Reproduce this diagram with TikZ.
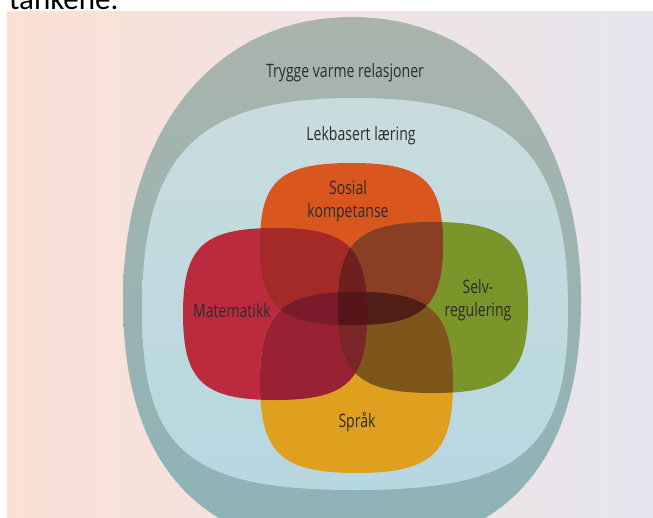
\documentclass[tikz,border=0pt]{standalone}
\usepackage{fontspec}
\newfontfamily\hand[FakeStretch=0.76]{Open Sans}
\newfontfamily\pagefont{Carlito}
\definecolor{pL}{HTML}{FBE1D5}
\definecolor{pM}{HTML}{F6E1DA}
\definecolor{pR}{HTML}{E6E5EE}
\definecolor{outerT}{HTML}{AAB4AC}
\definecolor{outerB}{HTML}{8CB3B8}
\definecolor{innerT}{HTML}{C9DCDD}
\definecolor{innerB}{HTML}{B7D7E1}
\definecolor{cO}{HTML}{D9571F}
\definecolor{cR}{HTML}{BB2A3D}
\definecolor{cG}{HTML}{7A9529}
\definecolor{cY}{HTML}{DEA01E}
\definecolor{cOR}{HTML}{A32A26}
\definecolor{cOG}{HTML}{8A3F25}
\definecolor{cRY}{HTML}{982233}
\definecolor{cGY}{HTML}{7E561B}
\definecolor{cOY}{HTML}{6A1E1E}
\definecolor{cRG}{HTML}{742223}
\definecolor{cORG}{HTML}{6F1F20}
\definecolor{cORY}{HTML}{7A1B2B}
\definecolor{cOGY}{HTML}{4F1E15}
\definecolor{cRGY}{HTML}{7A2526}
\definecolor{cAll}{HTML}{571519}
\definecolor{txt}{HTML}{2B2B2B}
% blob: cx, cy, half-width, top height, bottom height, top k, bottom k
\newcommand\blobp[7]{({#1},{#2-#4}) .. controls ({#1+#6*#3},{#2-#4}) and ({#1+#3},{#2-#6*#4}) .. ({#1+#3},{#2}) .. controls ({#1+#3},{#2+#7*#5}) and ({#1+#7*#3},{#2+#5}) .. ({#1},{#2+#5}) .. controls ({#1-#7*#3},{#2+#5}) and ({#1-#3},{#2+#7*#5}) .. ({#1-#3},{#2}) .. controls ({#1-#3},{#2-#6*#4}) and ({#1-#6*#3},{#2-#4}) .. cycle}
\newcommand\shO{\blobp{351.5}{244}{91.5}{81}{81}{0.78}{0.78}}
\newcommand\shR{\blobp{275}{314}{92}{86}{86}{0.78}{0.78}}
\newcommand\shG{\blobp{433}{307.5}{95}{85.5}{85.5}{0.78}{0.78}}
\newcommand\shY{\blobp{356.5}{382.5}{96.5}{90.5}{90.5}{0.78}{0.78}}
\tikzset{
  lbl/.style={text=txt, align=center, inner sep=0pt, font=\hand\fontsize{18.5}{23}\selectfont},
}
\begin{document}
\begin{tikzpicture}[x=1pt,y=-1pt]
\useasboundingbox (0,0) rectangle (653,517);
% page
\fill[white] (0,0) rectangle (653,517);
\shade[left color=pL, middle color=pM, right color=pR] (7,11) rectangle (653,517);
\node[anchor=base west, inner sep=0pt, font=\pagefont\fontsize{31}{31}\selectfont] (head) at (9,9) {tankene.};
% outer and inner regions
\shade[top color=outerT, bottom color=outerB] \blobp{352}{300}{229}{283}{250}{0.6}{0.66};
\shade[top color=innerT, bottom color=innerB] \blobp{355}{310}{213}{212}{180}{0.74}{0.78};
% four domains
\fill[cO] \shO;
\fill[cR] \shR;
\fill[cG] \shG;
\fill[cY] \shY;
% pairwise overlaps
\begin{scope}\clip \shO; \fill[cOR] \shR; \end{scope}
\begin{scope}\clip \shO; \fill[cOG] \shG; \end{scope}
\begin{scope}\clip \shR; \fill[cRY] \shY; \end{scope}
\begin{scope}\clip \shG; \fill[cGY] \shY; \end{scope}
\begin{scope}\clip \shO; \fill[cOY] \shY; \end{scope}
\begin{scope}\clip \shR; \fill[cRG] \shG; \end{scope}
% triple overlaps
\begin{scope}\clip \shO; \clip \shR; \fill[cORG] \shG; \end{scope}
\begin{scope}\clip \shO; \clip \shR; \fill[cORY] \shY; \end{scope}
\begin{scope}\clip \shO; \clip \shG; \fill[cOGY] \shY; \end{scope}
\begin{scope}\clip \shR; \clip \shG; \fill[cRGY] \shY; \end{scope}
% all four
\begin{scope}\clip \shO; \clip \shR; \clip \shG; \fill[cAll] \shY; \end{scope}
% labels
\node[lbl] (trygge) at (345,73) {Trygge varme relasjoner};
\node[lbl] (lek) at (361,136) {Lekbasert læring};
\node[lbl] (sosial) at (348,201) {Sosial\\kompetanse};
\node[lbl] (mat) at (232,311) {Matematikk};
\node[lbl] (selv) at (478,300) {Selv-\\regulering};
\node[lbl] (sprak) at (357,422) {Språk};
\end{tikzpicture}
\end{document}
